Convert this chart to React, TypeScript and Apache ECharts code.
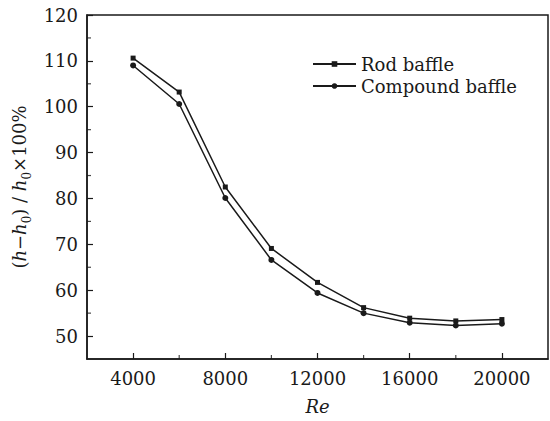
import React, { useEffect, useRef } from "react";
import * as echarts from "echarts";

const reValues = [4000, 6000, 8000, 10000, 12000, 14000, 16000, 18000, 20000];
const rodBaffle = [110.6, 103.2, 82.5, 69.1, 61.7, 56.2, 53.9, 53.3, 53.6];
const compoundBaffle = [109.0, 100.6, 80.1, 66.6, 59.4, 55.0, 52.9, 52.3, 52.7];
const xMajorTicks = [4000, 8000, 12000, 16000, 20000];
const xMinorTicks = [6000, 10000, 14000, 18000];
const yMajorTicks = [50, 60, 70, 80, 90, 100, 110, 120];
const yMinorTicks = [55, 65, 75, 85, 95, 105, 115];

const X_MIN = 2000;
const X_MAX = 22000;
const Y_MIN = 45;
const Y_MAX = 120;

const FONT = "DejaVu Serif";
const INK = "#1a1a1a";

export default function App() {
  const ref = useRef<HTMLDivElement>(null);
  useEffect(() => {
    if (!ref.current) return;
    const chart = echarts.init(ref.current, null, { renderer: "svg" });
    chart.setOption({
      animation: false,
      backgroundColor: "#fff",
      textStyle: { fontFamily: FONT },
      grid: { left: 87, right: 2, top: 15, bottom: 62, show: true, borderColor: INK, borderWidth: 1.5, containLabel: false },
      legend: {
        orient: "vertical",
        left: 307,
        top: 50,
        itemWidth: 43,
        itemHeight: 7,
        itemGap: 4,
        textStyle: { fontFamily: FONT, fontSize: 18, color: INK },
        data: ["Rod baffle", "Compound baffle"],
      },
      xAxis: {
        type: "value",
        min: X_MIN,
        max: X_MAX,
        interval: 2000,
        splitLine: { show: false },
        name: "Re",
        nameLocation: "middle",
        nameGap: 38,
        nameTextStyle: { fontFamily: FONT, fontSize: 18, fontStyle: "italic", color: INK },
        axisLine: { show: true, onZero: false, lineStyle: { color: INK, width: 1.5 } },
        axisTick: { show: true, inside: true, length: 6, customValues: xMajorTicks, lineStyle: { color: INK, width: 1.2 } },
        axisLabel: { show: true, customValues: xMajorTicks, formatter: (v: number) => String(v), margin: 10, fontFamily: FONT, fontSize: 18, color: INK },
      },
      yAxis: {
        type: "value",
        min: Y_MIN,
        max: Y_MAX,
        interval: 5,
        splitLine: { show: false },
        name: "{p|(}{i|h}{p|−}{i|h}{s|0}{p|) / }{i|h}{s|0}{p|×100%}",
        nameLocation: "middle",
        nameGap: 50,
        nameRotate: 90,
        nameTextStyle: {
          fontFamily: FONT,
          fontSize: 18,
          color: INK,
          rich: {
            p: { fontFamily: FONT, fontSize: 18, color: INK, lineHeight: 26, verticalAlign: "middle" },
            i: { fontFamily: FONT, fontSize: 18, fontStyle: "italic", color: INK, lineHeight: 26, verticalAlign: "middle" },
            s: { fontFamily: FONT, fontSize: 12, color: INK, lineHeight: 26, verticalAlign: "bottom" },
          },
        },
        axisLine: { show: true, onZero: false, lineStyle: { color: INK, width: 1.5 } },
        axisTick: { show: true, inside: true, length: 6, customValues: yMajorTicks, lineStyle: { color: INK, width: 1.2 } },
        axisLabel: { show: true, customValues: yMajorTicks, margin: 9, fontFamily: FONT, fontSize: 18, color: INK },
      },
      series: [
        {
          name: "Rod baffle",
          type: "line",
          data: reValues.map((x, i) => [x, rodBaffle[i]]),
          symbol: "rect",
          symbolSize: 5,
          itemStyle: { color: INK },
          lineStyle: { color: INK, width: 1.5 },
          z: 3,
        },
        {
          name: "Compound baffle",
          type: "line",
          data: reValues.map((x, i) => [x, compoundBaffle[i]]),
          symbol: "circle",
          symbolSize: 6,
          itemStyle: { color: INK },
          lineStyle: { color: INK, width: 1.5 },
          z: 3,
        },
        {
          name: "x minor ticks",
          type: "scatter",
          data: xMinorTicks.map((v) => [v, Y_MIN]),
          symbol: "rect",
          symbolSize: [1.2, 4],
          symbolOffset: [0, -2],
          itemStyle: { color: INK },
          silent: true,
          clip: false,
          z: 1,
        },
        {
          name: "y minor ticks",
          type: "scatter",
          data: yMinorTicks.map((v) => [X_MIN, v]),
          symbol: "rect",
          symbolSize: [4, 1.2],
          symbolOffset: [2, 0],
          itemStyle: { color: INK },
          silent: true,
          clip: false,
          z: 1,
        },
      ],
    });
    return () => chart.dispose();
  }, []);
  return <div ref={ref} style={{ position: "fixed", left: 0, top: 0, width: 550, height: 421 }} />;
}
